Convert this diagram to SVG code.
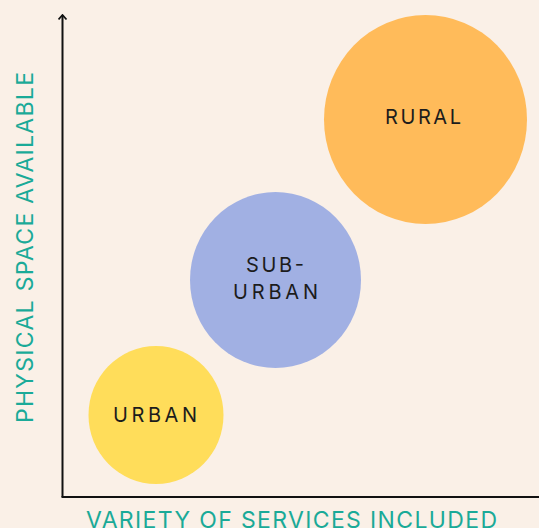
<svg xmlns="http://www.w3.org/2000/svg" width="539" height="528" viewBox="0 0 539 528">
  <defs>
    <style>
      .bubble-label { font-family: Inter, "Liberation Sans", sans-serif; font-size: 20px; fill: #1c1c1c; text-anchor: middle; }
      .axis-label { font-family: Inter, "Liberation Sans", sans-serif; font-size: 23px; fill: #1aaa98; text-anchor: middle; }
      .axis { stroke: #111; stroke-width: 2; fill: none; }
    </style>
    <!-- open chevron head, drawn pointing along +x so orient="auto" follows the line -->
    <marker id="arrow" viewBox="0 0 10 10" refX="9" refY="5" markerWidth="10" markerHeight="10" markerUnits="userSpaceOnUse" orient="auto">
      <path d="M4.5,1 L9,5 L4.5,9" fill="none" stroke="#111" stroke-width="1.8"/>
    </marker>
  </defs>

  <rect width="539" height="528" fill="#faf0e7"/>

  <!-- axes -->
  <g id="connectors">
    <path class="axis" d="M62.5,497 L62.5,15" marker-end="url(#arrow)"/>
    <path class="axis" d="M61.5,497 L539,497"/>
  </g>

  <g id="node-urban">
    <ellipse cx="156" cy="415" rx="67.5" ry="69" fill="#ffdd5a"/>
    <text class="bubble-label" x="155" y="422" textLength="84" lengthAdjust="spacing">URBAN</text>
  </g>

  <g id="node-suburban">
    <ellipse cx="275.5" cy="280" rx="85.5" ry="88" fill="#a1b0e3"/>
    <text class="bubble-label" x="275" y="272" textLength="58" lengthAdjust="spacing">SUB-</text>
    <text class="bubble-label" x="275.5" y="299" textLength="85" lengthAdjust="spacing">URBAN</text>
  </g>

  <g id="node-rural">
    <ellipse cx="425.5" cy="119.5" rx="101.5" ry="104.5" fill="#ffbb5a"/>
    <text class="bubble-label" x="423" y="124" textLength="76" lengthAdjust="spacing">RURAL</text>
  </g>

  <g id="axis-labels">
    <text class="axis-label" transform="translate(33,247.5) rotate(-90)" x="0" y="0" textLength="351" lengthAdjust="spacing">PHYSICAL SPACE AVAILABLE</text>
    <text class="axis-label" x="291.5" y="528" textLength="411" lengthAdjust="spacing">VARIETY OF SERVICES INCLUDED</text>
  </g>
</svg>
